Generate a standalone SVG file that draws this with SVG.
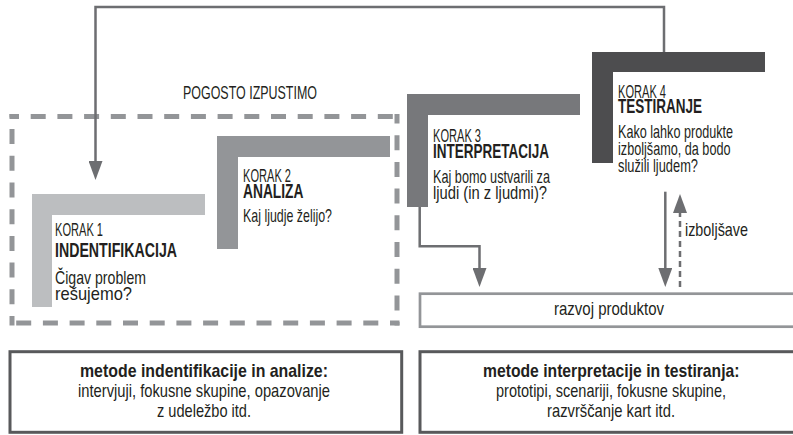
<svg xmlns="http://www.w3.org/2000/svg" width="793" height="435" viewBox="0 0 793 435">
<style>
.t{font-family:"Liberation Sans Narrow","Liberation Sans",Arial,sans-serif;fill:#231f20;font-size:18.5px}
.k{font-size:18px}
.h{font-size:19.5px;font-weight:bold}
.mb{font-size:19px;font-weight:bold}
.m{font-size:18.5px}
.conn{fill:none;stroke:#6d6e71;stroke-width:2.5}
.dash{stroke-dasharray:6 4}
.frame{stroke:#939598;stroke-width:5;fill:none;stroke-dasharray:15 11.7;stroke-dashoffset:5.5}
.box{fill:none;stroke:#58595b;stroke-width:3}
.pbox{fill:none;stroke:#939598;stroke-width:2.7}
</style>
<defs>
<marker id="ah" markerUnits="userSpaceOnUse" markerWidth="19" markerHeight="14" refX="9" refY="7" orient="auto">
<path d="M0,0 L19,7 L0,14 z" fill="#6d6e71"/>
</marker>
</defs>
<rect width="793" height="435" fill="#ffffff"/>

<g id="skip-frame">
<path class="frame" d="M9.5,116.5 H399.5"/>
<path class="frame" d="M397,114 V325.5"/>
<path class="frame" d="M399.5,323 H9.5"/>
<path class="frame" d="M12,325.5 V114"/>
<text class="t k" x="183" y="99" textLength="134" lengthAdjust="spacingAndGlyphs">POGOSTO IZPUSTIMO</text>
</g>

<g id="step1">
<path d="M32,194 H205 V215 H52 V307 H32 Z" fill="#bcbec0"/>
<text class="t k" x="55" y="236" textLength="48" lengthAdjust="spacingAndGlyphs">KORAK 1</text>
<text class="t h" x="55" y="257" textLength="122" lengthAdjust="spacingAndGlyphs">INDENTIFIKACIJA</text>
<text class="t" x="55" y="284" textLength="91" lengthAdjust="spacingAndGlyphs">Čigav problem</text>
<text class="t" x="55" y="300" textLength="77" lengthAdjust="spacingAndGlyphs">rešujemo?</text>
</g>

<g id="step2">
<path d="M217,136 H390 V157 H238 V249 H217 Z" fill="#939598"/>
<text class="t k" x="243" y="182" textLength="48" lengthAdjust="spacingAndGlyphs">KORAK 2</text>
<text class="t h" x="243" y="198" textLength="60.5" lengthAdjust="spacingAndGlyphs">ANALIZA</text>
<text class="t" x="243" y="222" textLength="89" lengthAdjust="spacingAndGlyphs">Kaj ljudje želijo?</text>
</g>

<g id="step3">
<path d="M407,94 H580 V115 H428 V207 H407 Z" fill="#77787b"/>
<text class="t k" x="433" y="142" textLength="48" lengthAdjust="spacingAndGlyphs">KORAK 3</text>
<text class="t h" x="433" y="158" textLength="116" lengthAdjust="spacingAndGlyphs">INTERPRETACIJA</text>
<text class="t" x="433" y="183" textLength="117" lengthAdjust="spacingAndGlyphs">Kaj bomo ustvarili za</text>
<text class="t" x="433" y="199" textLength="114" lengthAdjust="spacingAndGlyphs">ljudi (in z ljudmi)?</text>
</g>

<g id="step4">
<path d="M592,52 H765 V72 H613 V163 H592 Z" fill="#4d4d4f"/>
<text class="t k" x="618" y="98" textLength="48" lengthAdjust="spacingAndGlyphs">KORAK 4</text>
<text class="t h" x="618" y="113" textLength="84" lengthAdjust="spacingAndGlyphs">TESTIRANJE</text>
<text class="t" x="618" y="138" textLength="115" lengthAdjust="spacingAndGlyphs">Kako lahko produkte</text>
<text class="t" x="618" y="155" textLength="112.5" lengthAdjust="spacingAndGlyphs">izboljšamo, da bodo</text>
<text class="t" x="618" y="171.5" textLength="80" lengthAdjust="spacingAndGlyphs">služili ljudem?</text>
</g>

<g id="product-dev">
<rect class="pbox" x="420" y="293.7" width="390" height="33"/>
<text class="t m" x="554" y="315" textLength="110" lengthAdjust="spacingAndGlyphs">razvoj produktov</text>
</g>

<g id="methods-left">
<rect class="box" x="10" y="351.7" width="391.7" height="80.6"/>
<text class="t mb" x="80" y="377" textLength="248" lengthAdjust="spacingAndGlyphs">metode indentifikacije in analize:</text>
<text class="t m" x="78" y="397" textLength="252" lengthAdjust="spacingAndGlyphs">intervjuji, fokusne skupine, opazovanje</text>
<text class="t m" x="157" y="416.5" textLength="94" lengthAdjust="spacingAndGlyphs">z udeležbo itd.</text>
</g>

<g id="methods-right">
<rect class="box" x="420" y="351.7" width="390" height="80.6"/>
<text class="t mb" x="483" y="377" textLength="256.5" lengthAdjust="spacingAndGlyphs">metode interpretacije in testiranja:</text>
<text class="t m" x="496" y="397" textLength="230" lengthAdjust="spacingAndGlyphs">prototipi, scenariji, fokusne skupine,</text>
<text class="t m" x="547" y="416.5" textLength="128" lengthAdjust="spacingAndGlyphs">razvrščanje kart itd.</text>
</g>

<g id="connectors">
<path class="conn" d="M664,52 V7 H95.5 V170" marker-end="url(#ah)"/>
<path class="conn" d="M419.7,207 V246.3 H479.5 V277" marker-end="url(#ah)"/>
<path class="conn" d="M665.3,191.7 V277" marker-end="url(#ah)"/>
<path class="conn dash" d="M680,287 V204" marker-end="url(#ah)"/>
<text class="t" x="685" y="236" textLength="63" lengthAdjust="spacingAndGlyphs">izboljšave</text>
</g>
</svg>
